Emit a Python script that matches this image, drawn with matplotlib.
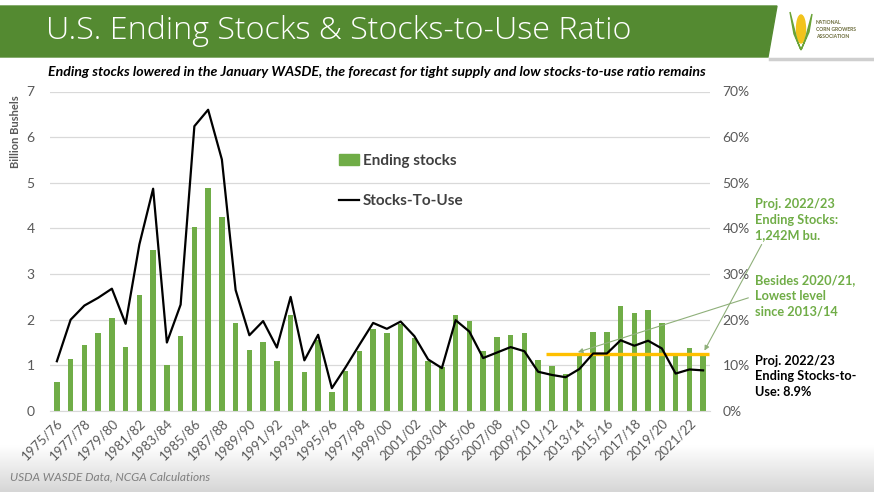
import matplotlib
matplotlib.use("Agg")
import matplotlib.pyplot as plt
import numpy as np
from matplotlib.patches import Polygon, Ellipse
from matplotlib.lines import Line2D
from matplotlib.patches import Patch

plt.rcParams['font.family'] = ['Lato', 'DejaVu Sans']

seasons = [f"{y}/{str(y + 1)[-2:]}" for y in range(1975, 2023)]
ending_stocks = [0.633, 1.136, 1.436, 1.710, 2.034, 1.392, 2.537, 3.523, 1.006, 1.648,
                 4.040, 4.882, 4.259, 1.930, 1.344, 1.521, 1.100, 2.113, 0.850, 1.558,
                 0.426, 0.883, 1.308, 1.787, 1.718, 1.899, 1.596, 1.087, 0.958, 2.114,
                 1.967, 1.304, 1.624, 1.673, 1.708, 1.128, 0.989, 0.821, 1.232, 1.731,
                 1.737, 2.293, 2.140, 2.221, 1.919, 1.235, 1.377, 1.242]
stocks_to_use = [10.9, 20.0, 23.1, 24.8, 26.8, 19.1, 36.5, 48.7, 15.0, 23.3,
                 62.4, 66.0, 55.1, 26.5, 16.6, 19.7, 13.9, 25.0, 11.1, 16.7,
                 5.0, 9.6, 14.5, 19.3, 18.0, 19.6, 16.4, 11.3, 9.4, 19.9,
                 17.4, 11.6, 12.8, 14.0, 13.1, 8.6, 7.9, 7.4, 9.2, 12.6,
                 12.6, 15.5, 14.3, 15.4, 13.7, 8.2, 9.1, 8.9]
proj_stocks = 1.242
left_ticks = list(range(0, 8))
right_ticks = list(range(0, 71, 10))

GREEN = '#70ad47'
HEAD = '#548a31'
GRAY = '#595959'

W, H = 874, 492
fig = plt.figure(figsize=(W / 100, H / 100), dpi=100)

# background layer (header & footer)
bg = fig.add_axes([0, 0, 1, 1])
bg.set_xlim(0, W)
bg.set_ylim(H, 0)
bg.axis('off')
grad = np.linspace(0, 1, 50).reshape(-1, 1)
bg.imshow(grad, extent=[0, W, H, 445], cmap=matplotlib.colors.LinearSegmentedColormap.from_list('g', ['#ffffff', '#d6d6d6']),
          aspect='auto', zorder=0)
bg.add_patch(Polygon([[0, 6], [777, 6], [768, 57], [0, 57]], closed=True, color=HEAD, zorder=1))
bg.plot([770, W], [59, 59], color='#cfcfcf', lw=2.5, zorder=1)
bg.text(46, 31, "U.S. Ending Stocks & Stocks-to-Use Ratio", color='white', fontsize=23.2,
        family=['Open Sans', 'Lato'], fontweight='light', va='center', ha='left', zorder=2)
# logo
bg.add_patch(Ellipse((801, 29), 9, 28, color='#f2c31b', zorder=2))
bg.add_patch(Polygon([[790, 12], [797, 40], [801, 50], [794, 34]], color='#6aa337', zorder=3))
bg.add_patch(Polygon([[812, 14], [805, 40], [801, 50], [809, 32]], color='#6aa337', zorder=3))
for i, t in enumerate(["NATIONAL", "CORN GROWERS", "ASSOCIATION"]):
    bg.text(816, 23 + i * 6.5, t, fontsize=3.6, color='#6b6b3a', fontweight='bold', va='center', zorder=3)
bg.set_zorder(-1)

ax = fig.add_axes([50 / W, 1 - 411 / H, 660 / W, 319.5 / H])
ax.patch.set_alpha(0)
x = np.arange(len(seasons))
ax.bar(x, ending_stocks, width=0.4, color=GREEN, zorder=2, label='Ending stocks')
ax.set_ylim(0, 7)
ax.set_xlim(-0.5, len(seasons) - 0.5)
ax.set_yticks(left_ticks)
ax.set_yticklabels([str(t) for t in left_ticks], fontsize=10, color=GRAY)
ax.grid(axis='y', color='#d9d9d9', lw=0.9, zorder=0)
for s in ['top', 'right', 'left']:
    ax.spines[s].set_visible(False)
ax.spines['bottom'].set_color('#d9d9d9')
ax.tick_params(axis='y', length=0, pad=11)
ax.tick_params(axis='x', length=0, pad=4)
ax.set_xticks(x[::2])
ax.set_xticklabels(seasons[::2], rotation=45, ha='right', va='top', rotation_mode='anchor',
                   fontsize=9.5, color=GRAY)
ax.set_ylabel("Billion Bushels", fontsize=8, color=GRAY, fontweight='bold')
ax.yaxis.set_label_coords(-0.044, 0.875)

ax.hlines(proj_stocks, 35.6, 47.45, color='#ffc000', lw=2.4, zorder=4)

ax2 = ax.twinx()
ax2.plot(x, stocks_to_use, color='black', lw=1.6, zorder=3, label='Stocks-To-Use')
ax2.set_ylim(0, 70)
ax2.set_yticks(right_ticks)
ax2.set_yticklabels([f"{t}%" for t in right_ticks], fontsize=10, color=GRAY)
ax2.tick_params(axis='y', length=0, pad=9)
for s in ['top', 'right', 'left', 'bottom']:
    ax2.spines[s].set_visible(False)

handles = [Patch(color=GREEN), Line2D([0], [0], color='black', lw=1.6)]
leg = ax.legend(handles, ['Ending stocks', 'Stocks-To-Use'], loc='upper left',
                bbox_to_anchor=((325 - 50) / 660, (411 - 140) / 319.5), frameon=False,
                prop={'size': 11, 'weight': 'bold'}, labelcolor='#404040',
                handlelength=1.3, handletextpad=0.3, labelspacing=1.75)

fig.text(377 / W, 1 - 72 / H,
         "Ending stocks lowered in the January WASDE, the forecast for tight supply and low stocks-to-use ratio remains",
         fontsize=10.2, fontweight='bold', fontstyle='italic', ha='center', va='center', color='black')

fig.text(755 / W, 1 - 198 / H, "Proj. 2022/23\nEnding Stocks:\n1,242M bu.", fontsize=9.2,
         fontweight='bold', color=GREEN, va='top', ha='left', linespacing=1.35)
fig.text(755 / W, 1 - 274 / H, "Besides 2020/21,\nLowest level\nsince 2013/14", fontsize=9.2,
         fontweight='bold', color=GREEN, va='top', ha='left', linespacing=1.35)
fig.text(755 / W, 1 - 355 / H, "Proj. 2022/23\nEnding Stocks-to-\nUse: 8.9%", fontsize=9.2,
         fontweight='bold', color='black', va='top', ha='left', linespacing=1.35)

ax.annotate("", xy=(47, 1.27), xycoords='data', xytext=(763 / W, 1 - 242 / H), textcoords='figure fraction',
            arrowprops=dict(arrowstyle='-|>', color='#8fb07a', lw=0.8, mutation_scale=7), zorder=6)
ax.annotate("", xy=(37.7, 1.27), xycoords='data', xytext=(751 / W, 1 - 297 / H), textcoords='figure fraction',
            arrowprops=dict(arrowstyle='-|>', color='#8fb07a', lw=0.8, mutation_scale=7), zorder=6)

fig.text(10 / W, 1 - 477 / H, "USDA WASDE Data, NCGA Calculations", fontsize=8.6, fontstyle='italic', color='#7f7f7f',
         va='center', ha='left')

fig.savefig("out.png", dpi=100)
